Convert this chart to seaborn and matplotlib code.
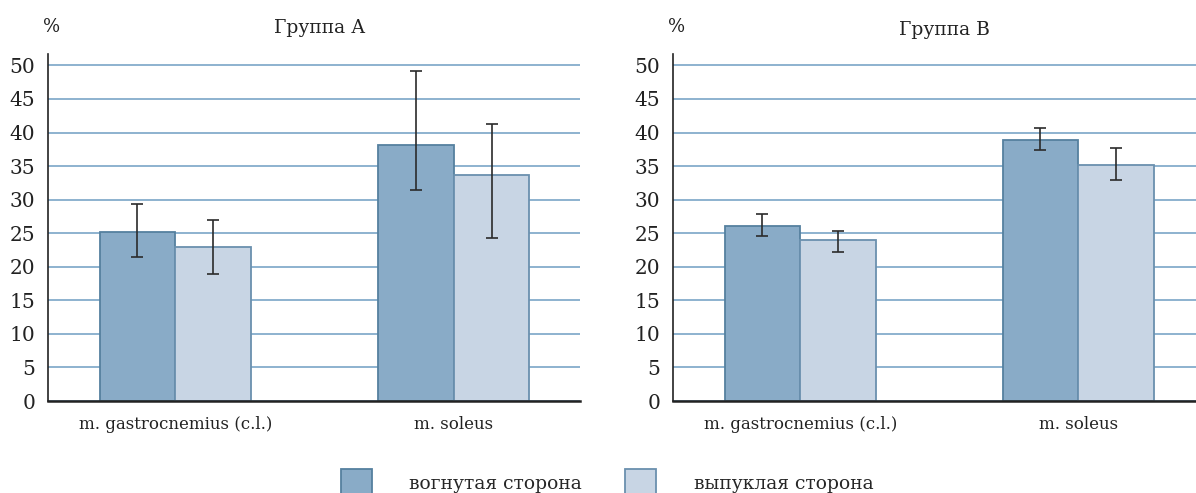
import matplotlib
matplotlib.use("Agg")
import matplotlib.pyplot as plt
import seaborn as sns
import numpy as np
import pandas as pd

sns.set_style("white")
plt.rcParams['font.family'] = ['DejaVu Serif', 'DejaVu Sans']

# data
muscles = ["m. gastrocnemius (c.l.)", "m. soleus"]
sides = ["вогнутая сторона", "выпуклая сторона"]
groups = ["Группа А", "Группа В"]

# group A: mean, lower and upper end of the error bar
a_concave = [25.2, 38.1]
a_concave_lo = [21.4, 31.5]
a_concave_hi = [29.4, 49.1]
a_convex = [22.9, 33.6]
a_convex_lo = [18.9, 24.3]
a_convex_hi = [26.9, 41.2]

# group B
b_concave = [26.1, 38.9]
b_concave_lo = [24.6, 37.4]
b_concave_hi = [27.8, 40.7]
b_convex = [24.0, 35.1]
b_convex_lo = [22.2, 33.0]
b_convex_hi = [25.4, 37.7]

yticks = [0, 5, 10, 15, 20, 25, 30, 35, 40, 45, 50]

fill = ["#89abc7", "#c8d5e4"]
edge = ["#55809f", "#6a90ae"]
grid_col = "#8db2cf"

fig = plt.figure(figsize=(11.96, 4.93), dpi=100)
ax1 = fig.add_axes([0.0401, 0.1866, 0.4448, 0.7039])
ax2 = fig.add_axes([0.5627, 0.1866, 0.4444, 0.7039])

panels = [
    (ax1, [a_concave, a_convex], [a_concave_lo, a_convex_lo], [a_concave_hi, a_convex_hi]),
    (ax2, [b_concave, b_convex], [b_concave_lo, b_convex_lo], [b_concave_hi, b_convex_hi]),
]

for ax, means, los, his in panels:
    df = pd.DataFrame({
        "muscle": muscles * 2,
        "side": [sides[0]] * 2 + [sides[1]] * 2,
        "value": means[0] + means[1],
    })
    sns.barplot(data=df, x="muscle", y="value", hue="side", hue_order=sides,
                palette=fill, saturation=1, width=0.545, errorbar=None, legend=False, ax=ax,
                edgecolor="none", zorder=3)
    bar_conts = list(ax.containers)[:2]
    for i, cont in enumerate(bar_conts):
        for j, bar in enumerate(cont.patches):
            bar.set_edgecolor(edge[i])
            bar.set_linewidth(1.3)
            xc = bar.get_x() + bar.get_width() / 2
            m = means[i][j]
            ax.errorbar(xc, m, yerr=[[m - los[i][j]], [his[i][j] - m]],
                        fmt="none", ecolor="#2b2b2b", elinewidth=1.2,
                        capsize=4.5, capthick=1.2, zorder=4)

    ax.set_xlim(-0.458, 1.454)
    ax.set_ylim(0, 51.7)
    ax.set_yticks(yticks)
    ax.set_xticks([0, 1])
    ax.set_xticklabels(muscles)
    ax.set_xticks([-0.458, 0.5, 1.454], minor=True)
    ax.tick_params(axis="x", which="major", length=0, pad=11, labelsize=12, labelcolor="#222222")
    ax.tick_params(axis="x", which="minor", length=5, width=1.3, color="#222222", direction="out")
    ax.tick_params(axis="y", length=5, width=1.0, color="#222222", direction="out",
                   pad=4, labelsize=14.5, labelcolor="#222222")
    ax.yaxis.grid(True, color=grid_col, linewidth=1.4)
    ax.set_axisbelow(True)
    for s in ["top", "right"]:
        ax.spines[s].set_visible(False)
    ax.spines["left"].set_color("#222222")
    ax.spines["left"].set_linewidth(1.2)
    ax.spines["bottom"].set_color("#222222")
    ax.spines["bottom"].set_linewidth(1.8)
    ax.spines["bottom"].set_zorder(5)
    ax.set_xlabel("")
    ax.set_ylabel("")

# titles and % labels in figure coords
fig.text(320 / 1196, 1 - 28 / 493, groups[0], ha="center", va="center", fontsize=13.5, color="#222222")
fig.text(944 / 1196, 1 - 30 / 493, groups[1], ha="center", va="center", fontsize=13.5, color="#222222")
fig.text(52 / 1196, 1 - 27 / 493, "%", ha="center", va="center", fontsize=13, color="#222222")
fig.text(677 / 1196, 1 - 27 / 493, "%", ha="center", va="center", fontsize=13, color="#222222")

handles = [plt.Rectangle((0, 0), 1, 1, facecolor=fill[k], edgecolor=edge[k], linewidth=1.3) for k in range(2)]
fig.legend(handles, sides, loc="center", bbox_to_anchor=(607 / 1196, 1 - 483 / 493),
           ncol=2, frameon=False, fontsize=13.5, handlelength=1.65, handleheight=2.0,
           handletextpad=2.0, columnspacing=2.3)

fig.savefig("out.png", dpi=100)
